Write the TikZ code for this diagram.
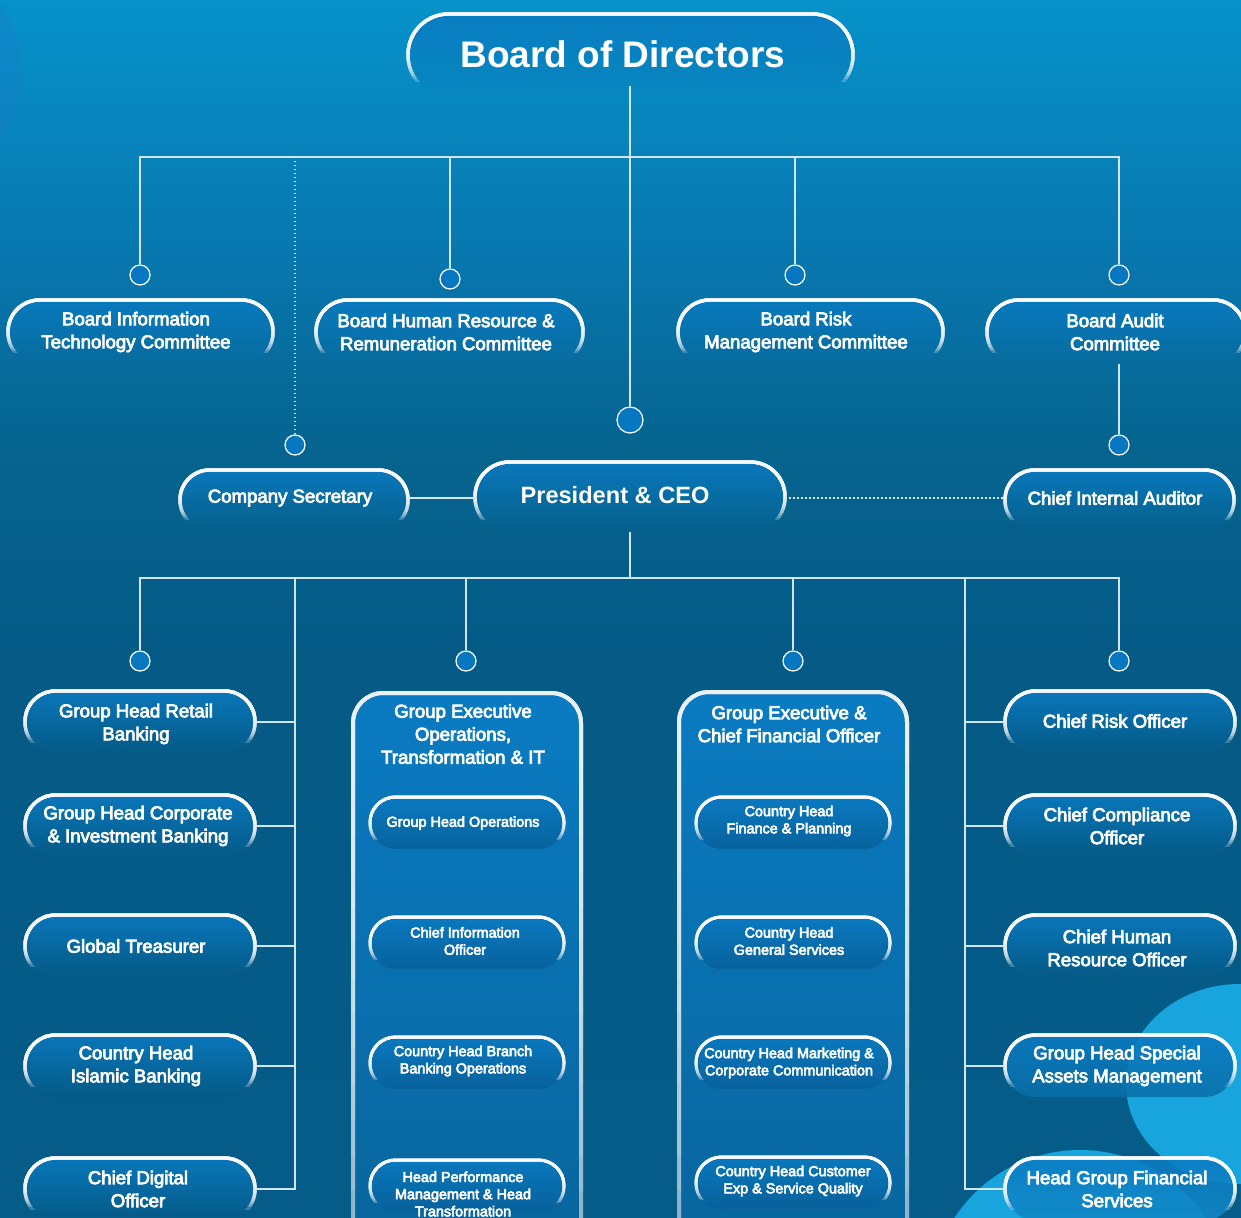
\documentclass[tikz,border=0pt]{standalone}
\usepackage{fontspec}
\setmainfont{Liberation Sans}
\newfontfamily\medfont[FakeBold=4]{Liberation Sans}
\usetikzlibrary{fit}
\pgfdeclarelayer{bglayer}
\pgfdeclarelayer{boxlayer}
\pgfsetlayers{bglayer,boxlayer,main}
\definecolor{bgtop}{HTML}{0792CA}
\definecolor{bgtwo}{HTML}{0877AF}
\definecolor{bgthree}{HTML}{06648F}
\definecolor{bgfour}{HTML}{055A86}
\definecolor{bgbot}{HTML}{055C88}
\definecolor{boxtop}{HTML}{0A7BC2}
\definecolor{rowA}{HTML}{0787BF}
\definecolor{rowB}{HTML}{076C9D}
\definecolor{rowC}{HTML}{06608B}
\definecolor{rowD}{HTML}{055A86}
\definecolor{rowE}{HTML}{0A6FA8}
\definecolor{rowF}{HTML}{1288C6}
\definecolor{innerbot}{HTML}{07609A}
\definecolor{colbot}{HTML}{08659C}
\definecolor{blobc}{HTML}{18A4DD}
\definecolor{cornerc}{HTML}{1A7CCC}
\definecolor{dotc}{HTML}{0877C2}
\definecolor{linec}{HTML}{D2E6F2}
\pgfdeclareverticalshading{bgshade}{100bp}{color(0bp)=(bgbot); color(25bp)=(bgbot); color(48bp)=(bgfour); color(56.5bp)=(bgthree); color(64.7bp)=(bgtwo); color(75bp)=(bgtop); color(100bp)=(bgtop)}
\tikzset{
  lbl/.style={text=white, align=center, inner sep=0pt, font=\medfont\fontsize{9.3}{11.5}\selectfont},
  lblsmall/.style={text=white, align=center, inner sep=0pt, font=\medfont\fontsize{7.2}{8.6}\selectfont},
  conn/.style={draw=linec, line width=0.8pt},
  dotline/.style={draw=linec, line width=0.6pt, dash pattern=on 0.6pt off 1.4pt},
  dot/.style={circle, fill=dotc, draw=white, line width=0.6pt, minimum size=10pt, inner sep=0pt},
}
% pill: name, x1, y1, x2, y2, corner radius (px), bottom colour, border width
\newcommand\pill[8]{%
  \coordinate (#1-a) at (#2,#3);
  \coordinate (#1-b) at (#4,#5);
  \node[fit=(#1-a)(#1-b), inner sep=0pt] (#1) {};
  \begin{pgfonlayer}{boxlayer}
    \shade[top color=boxtop, bottom color=#7, fill opacity=0.88, rounded corners=#6*0.5pt] (#1-a) rectangle (#1-b);
    \foreach \k in {0,...,15}{%
      \pgfmathsetmacro\yb{#3+(#5-#3)*(0.3+0.035*\k)}%
      \begin{scope}
        \clip (#2-6,#3-6) rectangle (#4+6,\yb);
        \draw[white, draw opacity=0.22, line width=#8, rounded corners=#6*0.5pt] (#1-a) rectangle (#1-b);
      \end{scope}}%
  \end{pgfonlayer}}
% column box: name, x1, y1, x2, y2
\newcommand\colbox[5]{%
  \coordinate (#1-a) at (#2,#3);
  \coordinate (#1-b) at (#4,#5);
  \node[fit=(#1-a)(#1-b), inner sep=0pt] (#1) {};
  \begin{pgfonlayer}{boxlayer}
    \shade[top color=boxtop, bottom color=colbot, rounded corners=15pt] (#1-a) rectangle (#1-b);
    \draw[white, draw opacity=0.4, line width=2pt, rounded corners=15pt] (#1-a) rectangle (#1-b);
    \foreach \k in {1,...,16}{%
      \pgfmathsetmacro\yb{#3+(#5-#3)*\k/16}%
      \begin{scope}
        \clip (#2-6,#3-6) rectangle (#4+6,\yb);
        \draw[white, draw opacity=0.12, line width=2pt, rounded corners=15pt] (#1-a) rectangle (#1-b);
      \end{scope}}%
  \end{pgfonlayer}}
\begin{document}
\begin{tikzpicture}[x=0.5pt,y=-0.5pt]
\useasboundingbox (0,0) rectangle (1241,1218);
\begin{pgfonlayer}{bglayer}
  \clip (0,0) rectangle (1241,1218);
  \shade[shading=bgshade] (0,0) rectangle (1241,1218);
  \fill[blobc] (1240,1084) ellipse [x radius=114, y radius=100];
  \fill[blobc] (1080,1300) circle [radius=150];
  \fill[cornerc, opacity=0.35] (-25,70) ellipse [x radius=45, y radius=80];
\end{pgfonlayer}

% ---- Board level
\pill{bod}{408}{14}{853}{96}{40.5}{rowA}{1.7pt}
\node[text=white, inner sep=0pt, font=\bfseries\fontsize{18.5}{22}\selectfont] (bod-t) at (623,54) {Board of Directors};

\pill{bitc}{8}{300}{273}{364}{31.5}{rowB}{1.7pt}
\node[lbl] (bitc-t) at (136,332) {Board Information\\Technology Committee};
\pill{bhr}{316}{300}{583}{364}{31.5}{rowB}{1.7pt}
\node[lbl] (bhr-t) at (446,332) {Board Human Resource \&\\Remuneration Committee};
\pill{brm}{678}{300}{943}{364}{31.5}{rowB}{1.7pt}
\node[lbl] (brm-t) at (806,332) {Board Risk\\Management Committee};
\pill{bac}{987}{300}{1245}{364}{31.5}{rowB}{1.7pt}
\node[lbl] (bac-t) at (1115,332) {Board Audit\\Committee};

\pill{cs}{180}{470}{408}{530}{29.5}{rowC}{1.7pt}
\node[lbl] (cs-t) at (290,498) {Company Secretary};
\pill{ceo}{475}{462}{785}{532}{34.5}{rowC}{1.7pt}
\node[text=white, inner sep=0pt, font=\bfseries\fontsize{11.8}{14}\selectfont] (ceo-t) at (615,495) {President \& CEO};
\pill{cia}{1005}{470}{1234}{530}{29.5}{rowC}{1.7pt}
\node[lbl] (cia-t) at (1115,498) {Chief Internal Auditor};

% ---- left column
\pill{L1}{25}{691}{255}{753}{30.5}{rowD}{1.7pt}
\node[lbl] (L1-t) at (136,724) {Group Head Retail\\Banking};
\pill{L2}{25}{795}{255}{857}{30.5}{rowD}{1.7pt}
\node[lbl] (L2-t) at (138,826) {Group Head Corporate\\\& Investment Banking};
\pill{L3}{25}{915}{255}{977}{30.5}{rowD}{1.7pt}
\node[lbl] (L3-t) at (136,946) {Global Treasurer};
\pill{L4}{25}{1035}{255}{1097}{30.5}{rowD}{1.7pt}
\node[lbl] (L4-t) at (136,1066) {Country Head\\Islamic Banking};
\pill{L5}{25}{1158}{255}{1220}{30.5}{rowD}{1.7pt}
\node[lbl] (L5-t) at (138,1189) {Chief Digital\\Officer};

% ---- right column
\pill{R1}{1005}{691}{1235}{753}{30.5}{rowD}{1.7pt}
\node[lbl] (R1-t) at (1115,721) {Chief Risk Officer};
\pill{R2}{1005}{795}{1235}{857}{30.5}{rowD}{1.7pt}
\node[lbl] (R2-t) at (1117,826) {Chief Compliance\\Officer};
\pill{R3}{1005}{915}{1235}{977}{30.5}{rowD}{1.7pt}
\node[lbl] (R3-t) at (1117,948) {Chief Human\\Resource Officer};
\pill{R4}{1005}{1035}{1235}{1097}{30.5}{rowE}{1.7pt}
\node[lbl] (R4-t) at (1117,1066) {Group Head Special\\Assets Management};
\pill{R5}{1005}{1158}{1235}{1220}{30.5}{rowF}{1.7pt}
\node[lbl] (R5-t) at (1117,1189) {Head Group Financial\\Services};

% ---- middle columns
\colbox{C1}{353}{693}{581}{1262}
\node[lbl] (C1-t) at (463,734) {Group Executive\\Operations,\\Transformation \& IT};
\colbox{C2}{679}{692}{907}{1262}
\node[lbl] (C2-t) at (789,724) {Group Executive \&\\Chief Financial Officer};

\pill{A1}{370}{797}{564}{849}{25.5}{innerbot}{1.5pt}
\node[lblsmall] (A1-t) at (463,823) {Group Head Operations};
\pill{A2}{370}{917}{564}{969}{25.5}{innerbot}{1.5pt}
\node[lblsmall] (A2-t) at (465,941) {Chief Information\\Officer};
\pill{A3}{370}{1037}{564}{1089}{25.5}{innerbot}{1.5pt}
\node[lblsmall] (A3-t) at (463,1061) {Country Head Branch\\Banking Operations};
\pill{A4}{370}{1160}{564}{1212}{25.5}{innerbot}{1.5pt}
\node[lblsmall] (A4-t) at (463,1194) {Head Performance\\Management \& Head\\Transformation};

\pill{B1}{696}{797}{890}{849}{25.5}{innerbot}{1.5pt}
\node[lblsmall] (B1-t) at (789,821) {Country Head\\Finance \& Planning};
\pill{B2}{696}{917}{890}{969}{25.5}{innerbot}{1.5pt}
\node[lblsmall] (B2-t) at (789,941) {Country Head\\General Services};
\pill{B3}{696}{1037}{890}{1089}{25.5}{innerbot}{1.5pt}
\node[lblsmall] (B3-t) at (789,1063) {Country Head Marketing \&\\Corporate Communication};
\pill{B4}{696}{1157}{890}{1209}{25.5}{innerbot}{1.5pt}
\node[lblsmall] (B4-t) at (793,1181) {Country Head Customer\\Exp \& Service Quality};

% ---- dots
\node[dot, minimum size=13pt] (ceodot) at (630,420) {};
\node[dot] (d1) at (140,275) {};
\node[dot] (d2) at (450,279) {};
\node[dot] (d3) at (795,275) {};
\node[dot] (d4) at (1119,275) {};
\node[dot] (csdot) at (295,445) {};
\node[dot] (ciadot) at (1119,445) {};
\node[dot] (e1) at (140,661) {};
\node[dot] (e2) at (466,661) {};
\node[dot] (e3) at (793,661) {};
\node[dot] (e4) at (1119,661) {};

% ---- connectors
\coordinate (bodstem) at (630,86);
\coordinate (bus1) at (630,157);
\coordinate (bus2) at (630,578);
\coordinate (lv) at (295,578);
\coordinate (rv) at (965,578);
\coordinate (midrow) at (0,498);
\draw[conn] (bodstem) -- (ceodot.north);
\draw[conn] (d1.north) |- (bus1) -| (d4.north);
\draw[conn] (d2.north) -- (d2.north |- bus1);
\draw[conn] (d3.north) -- (d3.north |- bus1);
\draw[dotline] (csdot.north) -- (csdot.north |- bus1);
\draw[conn] (ciadot.north |- bac.south) -- (ciadot.north);
\draw[conn] (cs.east |- midrow) -- (ceo.west |- midrow);
\draw[dotline] (ceo.east |- midrow) -- (cia.west |- midrow);
\draw[conn] (ceo.south) -- (bus2);
\draw[conn] (e1.north) |- (bus2) -| (e4.north);
\draw[conn] (e2.north) -- (e2.north |- bus2);
\draw[conn] (e3.north) -- (e3.north |- bus2);
\draw[conn] (lv) |- (L5.east);
\draw[conn] (L1.east) -- (L1.east -| lv);
\draw[conn] (L2.east) -- (L2.east -| lv);
\draw[conn] (L3.east) -- (L3.east -| lv);
\draw[conn] (L4.east) -- (L4.east -| lv);
\draw[conn] (rv) |- (R5.west);
\draw[conn] (R1.west) -- (R1.west -| rv);
\draw[conn] (R2.west) -- (R2.west -| rv);
\draw[conn] (R3.west) -- (R3.west -| rv);
\draw[conn] (R4.west) -- (R4.west -| rv);
\end{tikzpicture}
\end{document}
